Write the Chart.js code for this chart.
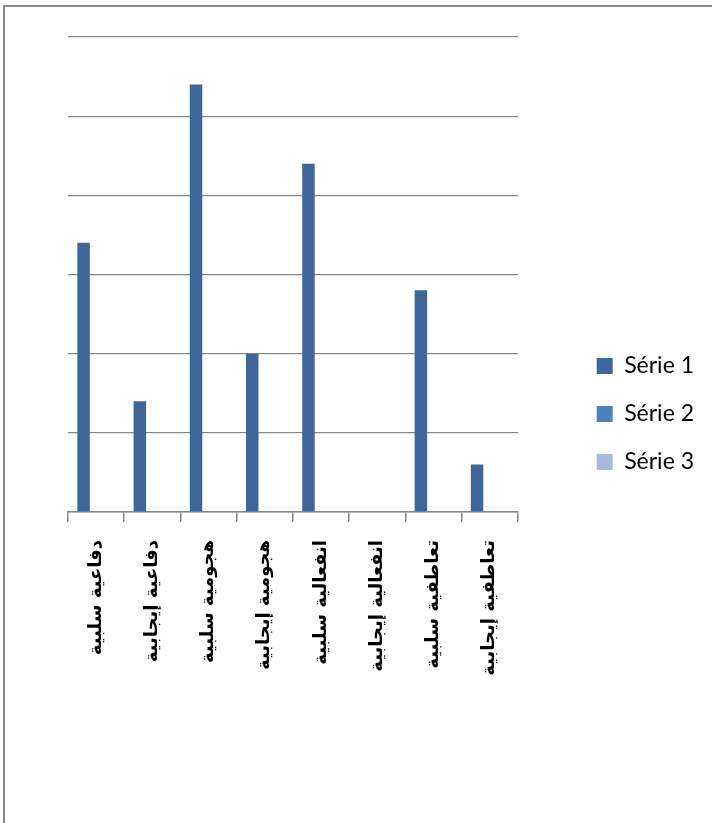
<!DOCTYPE html>
<html>
<head>
<meta charset="utf-8">
<script src="https://cdn.jsdelivr.net/npm/chart.js@4"></script>
<style>
  html, body { margin: 0; padding: 0; background: #fff; }
  #frame { position: absolute; left: 3px; top: 5px; width: 760px; height: 816px;
           border-left: 2px solid #878787; border-top: 2px solid #878787; border-bottom: 1px solid #d4d4d4; }
  #wrap { position: absolute; left: 0; top: 0; width: 712px; height: 823px; }
</style>
</head>
<body>
<div id="frame"></div>
<div id="wrap"><canvas id="chart"></canvas></div>
<script>
// categories (Arabic labels) and series values
const categories = [
  'دفاعية سلبية',
  'دفاعية إيجابية',
  'هجومية سلبية',
  'هجومية إيجابية',
  'انفعالية سلبية',
  'انفعالية إيجابية',
  'تعاطفية سلبية',
  'تعاطفية إيجابية'
];
const serie1 = [3.4, 1.4, 5.4, 2.0, 4.4, 0, 2.8, 0.6];
const serie2 = [null, null, null, null, null, null, null, null];
const serie3 = [null, null, null, null, null, null, null, null];
const seriesNames = ['Série 1', 'Série 2', 'Série 3'];
const yMax = 6;

const gridColor = '#878787';

function draw() {
  const ctx = document.getElementById('chart').getContext('2d');
  new Chart(ctx, {
    type: 'bar',
    data: {
      labels: categories,
      datasets: [
        { label: seriesNames[0], data: serie1, backgroundColor: '#3F6699' },
        { label: seriesNames[1], data: serie2, backgroundColor: '#4F81BD' },
        { label: seriesNames[2], data: serie3, backgroundColor: '#A8B9DA' }
      ]
    },
    options: {
      responsive: true,
      maintainAspectRatio: false,
      animation: false,
      layout: { padding: { left: 68, top: 37, right: 8, bottom: 32 } },
      datasets: { bar: { categoryPercentage: 0.667, barPercentage: 1 } },
      plugins: {
        tooltip: { enabled: false },
        legend: {
          position: 'right',
          labels: {
            color: '#000',
            font: { family: 'Lato', size: 23 },
            boxWidth: 16,
            boxHeight: 16,
            padding: 25
          }
        }
      },
      scales: {
        x: {
          grid: { display: true, drawOnChartArea: false, drawTicks: true, tickLength: 10, color: gridColor, lineWidth: 1.5, offset: true },
          border: { display: true, color: gridColor, width: 1.5 },
          ticks: {
            color: '#000',
            font: { family: 'DejaVu Sans', size: 18, weight: 'bold' },
            autoSkip: false, minRotation: 90, maxRotation: 90, padding: 18
          },
          afterFit(scale) { scale.height = 823 - 32 - 512; }
        },
        // value axis has no visible labels; kept on the right so its width
        // makes the space between the plot and the legend
        y: {
          position: 'right',
          min: 0, max: yMax,
          ticks: { display: false, stepSize: 1 },
          grid: { color: gridColor, lineWidth: 1.3, drawTicks: false },
          border: { display: false },
          afterFit(scale) { scale.width = 54; }
        }
      }
    }
  });
}

Promise.all([
  document.fonts.load('23px Lato'),
  document.fonts.load('bold 18px "DejaVu Sans"')
]).then(draw, draw);
</script>
</body>
</html>
